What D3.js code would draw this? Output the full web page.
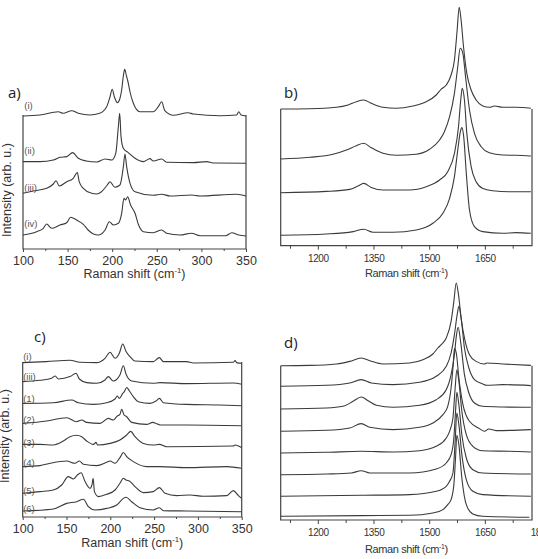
<!DOCTYPE html>
<html>
<head>
<meta charset="utf-8">
<script src="https://cdn.jsdelivr.net/npm/d3@7/dist/d3.min.js"></script>
<style>
  html, body { margin: 0; padding: 0; background: #fff; }
  svg { display: block; }
  .trace { fill: none; stroke: #3a3a3a; stroke-width: 1.1; stroke-linejoin: round; }
  .frame { fill: none; stroke: #444; stroke-width: 1.2; }
  .tick line { stroke: #444; }
</style>
</head>
<body>
<div id="canvas"></div>
<script>
// ---- data (Raman shift in cm-1, intensity in arb. u. above each trace's baseline) ----

// panel a (low wavenumber region)
var labelsA = ["(i)", "(ii)", "(iii)", "(iv)"];
var offsetsA = [133, 85.7, 53, 13];
var specA_i = [[100,0],[119,1],[139.6,4.3],[145,2.7],[154.6,5.3],[162,2.7],[175,1],[186,2.7],[193.8,9.3],[197.5,19],[200,26.7],[202.5,19],[205.8,13.3],[208.5,17],[210.6,26],[212.5,40],[214,46.7],[216,40],[217.5,35],[220,24],[223.7,12.7],[231,4.3],[246,4.3],[251.7,9.3],[255.5,14.3],[259,5.3],[268.5,0.7],[285,3.3],[291,2],[321,0.3],[339.5,1],[342,4.3],[344.4,1],[350,0]];
var specA_ii = [[100,1.7],[119,1.7],[134,3.3],[141.5,6],[149,6.7],[155.7,10.7],[162,5],[171,2.3],[182.6,1.3],[192,4.3],[199.4,3.3],[204,10],[206.9,36.7],[208.4,50],[209.9,26.7],[212.5,15],[218,10.7],[225.6,5],[235,1.7],[242.4,4.7],[246,2.3],[255.5,4.3],[261,1],[291,0.7],[305.9,1.7],[313,0.3],[350,0]];
var specA_iii = [[100,2.7],[111.6,5],[126.5,7.7],[134,12],[137,15.3],[140.7,10],[149,14.3],[156.4,17.7],[160.9,23.5],[163,14.3],[167.6,7.7],[177,2.7],[182.6,2],[188,4.3],[194.5,11],[197.5,14.3],[203,8.7],[208.7,11],[212.5,29.3],[214.3,42],[216.2,29.3],[220,12.7],[225.6,4.3],[246,0.7],[255.5,1.7],[264.8,0],[289,1],[298.4,0],[339.5,1.7],[350,0]];
var specA_iv = [[100,1],[115.3,4.3],[122.8,7.7],[126.5,12],[132,7.7],[141.5,11],[149,13.3],[153.4,18.7],[160,16],[167.6,11.7],[173,6],[178.9,2],[184.5,1],[192,6],[196.8,14.3],[201.3,11],[206.9,12.7],[210.6,22.7],[213.2,37.7],[215,36],[217.3,39.3],[220.6,31],[225.6,22.7],[229.3,11.7],[235,4.3],[246,3.3],[255.5,6],[261,2.7],[276,1],[289,2.7],[298.4,0.3],[327.2,0.3],[334,3.3],[342,1],[350,0]];

// panel b (D and G band region)
var offsetsB = [136.7, 86.7, 53, 10.4];
var specB_1 = [[1100,0],[1178,0.3],[1250,1.7],[1281.5,4],[1304,7.3],[1323.7,9],[1344,5.7],[1375.6,1.7],[1411,0.7],[1456,3],[1492,7.3],[1519,14],[1532,19.7],[1546,24],[1559,34],[1568,49],[1575.4,79],[1580.8,101.7],[1586,89],[1592.5,62.3],[1601.4,35.7],[1613,19],[1626.5,9],[1644.4,3],[1662.4,1.7],[1675.8,3],[1698,1.7],[1734,1.7],[1774,0.7]];
var specB_2 = [[1100,0],[1178,1.7],[1241,4.7],[1277,9],[1304,13.3],[1323.7,15.7],[1344,11.3],[1375.6,5.7],[1411,3.7],[1465,4.7],[1501,9.7],[1528,19],[1541,27.3],[1555,42.3],[1568,65.7],[1577,92.3],[1583.5,110.7],[1590.7,105.7],[1598,82.3],[1608.6,49],[1622,25.7],[1640,12.3],[1662,6.3],[1698,4],[1734,3.7],[1774,3]];
var specB_3 = [[1100,0],[1223,1.3],[1286,3.3],[1308,6.7],[1323.7,9.3],[1344,5.3],[1375.6,2.7],[1447,2.7],[1492,6],[1528,12.7],[1550,21],[1568,39.3],[1579,66],[1585,92.7],[1589,104.3],[1595,92.7],[1601.4,59.3],[1613,26],[1626.5,11],[1644.4,4.3],[1671,2],[1716,1],[1774,1]];
var specB_4 = [[1100,0],[1223,1.3],[1295,3.7],[1323.7,6],[1349,3],[1402.5,3],[1465,5.3],[1510,12],[1537,22],[1555,37],[1568,58.7],[1577,85.3],[1584,103.7],[1588,107.7],[1593,98.7],[1600,62],[1608.6,25.3],[1622,8.7],[1644.4,3.7],[1698,2],[1734,2.7],[1774,2]];

// panel c (low wavenumber region, more samples)
var labelsC = ["(i)", "(iii)", "(1)", "(2)", "(3)", "(4)", "(5)", "(6)"];
var offsetsC = [153.7, 132.7, 111.3, 91.3, 69.3, 48.7, 18.7, 5.3];
var specC_i = [[100,0.7],[127,1.7],[154,3],[165.4,1],[184.5,0.7],[194,5],[199.7,11],[205.4,5],[210.3,10],[214.2,19.3],[218,11.7],[222.5,6.7],[228,2.3],[249,1.7],[256,5.7],[260.6,1.7],[287,1.7],[294.8,0.3],[340.5,1],[342.4,2.7],[344.3,0.7],[350,0]];
var specC_iii = [[100,2.7],[119.8,4],[133,6],[137,8.3],[140.7,5.3],[154,7.7],[160.9,11],[164.7,5.3],[173,1.7],[184.5,1],[194,4.3],[197.7,7.7],[203.4,3.3],[211,9.3],[214.9,18.5],[218,10],[224.4,3.3],[249,1],[256.8,1.7],[287,0.7],[340.5,1.3],[350,0]];
var specC_1 = [[100,2.3],[135,3],[156,5.7],[163.5,3],[180.7,1.3],[195.9,3],[205.4,6.7],[208,9.7],[210.3,7.3],[214.2,12.3],[216,14],[218.7,18.2],[221.8,14.7],[226.3,9],[232,4],[245.3,2.3],[252.2,4.7],[256,7.3],[260.6,3],[287,1.3],[325,0.7],[350,0]];
var specC_2 = [[100,2.3],[127.4,4.7],[150.2,8],[161.6,4],[167.4,5.7],[173,3.3],[188.3,2.3],[197.7,7.3],[203.4,5.7],[208,9.7],[211,11.3],[213,16.5],[215.7,10.7],[218.7,9],[224.4,3.3],[241.5,1.3],[248.4,3.3],[252.2,2.3],[256.8,0.7],[287,0.7],[350,0]];
var specC_3 = [[100,3.3],[119.8,3.3],[135,2.7],[146.4,6.7],[154,11],[161.6,12.5],[167.4,11],[173,6.7],[180.7,3.3],[183.7,5.3],[185.6,2.7],[199.7,4.3],[211,7.7],[218.7,12.7],[223.3,16.3],[228.2,11],[237.7,4.3],[249,2.7],[256,3.3],[264.3,1],[340.5,1.7],[342.4,2.7],[350,0]];
var specC_4 = [[100,1.7],[119.8,2.7],[131.2,5],[150.2,7.3],[159.7,5],[164.7,7.3],[169.3,4],[184.5,2.7],[195.9,6],[199.7,7.3],[205.4,5],[211,10.7],[214.9,15.8],[218.7,11.7],[226.3,6.7],[241.5,1.7],[256.8,1.7],[287,0.7],[332.9,1.7],[350,0]];
var specC_5 = [[100,5],[119.8,6.7],[135,8.3],[144.5,13.3],[152,21.7],[157.8,19.3],[162.4,23.3],[166.6,25.5],[171.2,16.7],[176.9,10],[179.2,14],[180.4,20],[181.9,6.7],[186.5,1.7],[195.9,4],[205.4,8.3],[211,15],[214.9,20],[218,18.3],[221.8,17.3],[228.2,11.7],[237.7,5.7],[249,6.7],[256,10.7],[262.5,5],[275.8,2.7],[291,3.3],[306.2,2],[332.9,2.7],[340.5,7.7],[346.2,2.7],[350,0]];
var specC_6 = [[100,0.7],[135,2.7],[150.2,8.3],[161.6,10],[169.3,12.5],[175,5],[182.6,1.7],[195.9,3.3],[207.3,6.7],[214.9,13.3],[218,14.5],[224.4,10],[233.9,4],[249,1.7],[256,4],[260.6,1],[287,0.7],[350,0]];

// panel d (D and G band region, more samples)
var offsetsD = [154.3, 133.7, 111, 88.7, 67, 45.3, 23.7, 2.7];
var specD_1 = [[1100,0],[1178.5,0.3],[1250,1.7],[1286,4.3],[1317,7.7],[1340,5],[1375.6,1.7],[1447,2.7],[1483,6],[1510,11.7],[1523.5,17.7],[1532.4,21],[1546,27.7],[1559,44.3],[1566.5,64.3],[1572.8,82.7],[1579,71],[1586,47.7],[1597,24.3],[1608.6,11],[1626.5,4.3],[1649,1.7],[1655,2.7],[1698,1.7],[1774,0.3]];
var specD_2 = [[1100,0],[1223,1],[1286,3.3],[1317,6.7],[1344,3.3],[1402.5,1.7],[1474,4],[1519,10],[1546,20],[1559,33.3],[1568,51.7],[1575.4,71.7],[1580,80],[1586,68.3],[1595,38.3],[1607,18.3],[1622,6.7],[1644.4,2.3],[1655,1],[1698,1.7],[1774,0.7]];
var specD_3 = [[1100,0],[1223,1],[1268,2.7],[1295,7.7],[1317,12],[1335.6,8.3],[1358,3.7],[1402.5,1.7],[1474,3.7],[1519,9.3],[1546,19.3],[1559,34.3],[1568,54.3],[1573.7,74.3],[1578,81.7],[1584.6,67.7],[1595,34.3],[1607,16],[1622,6],[1644,2.7],[1698,2],[1774,1.7]];
var specD_4 = [[1100,0],[1223,1],[1286,3.3],[1317,7.7],[1340,4],[1402.5,1.7],[1474,4],[1510,8.3],[1537,16.7],[1550,25],[1559,43.3],[1564.7,66.7],[1568,82.7],[1573,78.3],[1580,53.3],[1591,26.7],[1608.6,10],[1635.5,2.7],[1649,0],[1660.6,2.3],[1680,0.7],[1774,1.7]];
var specD_5 = [[1100,0],[1223,0.7],[1317,1.7],[1402.5,1],[1474,2.3],[1519,6.7],[1546,15],[1555,21.7],[1564,35],[1570,65],[1574.5,83.3],[1580,71.7],[1588,41.7],[1600,18.3],[1617.6,6.7],[1644,2.3],[1716,1.7],[1774,1]];
var specD_6 = [[1100,0],[1223,0.7],[1290,1.7],[1317,4],[1340,1.7],[1447,1.7],[1519,5.7],[1546,11.7],[1559,20],[1566.5,36.7],[1571,63.3],[1574.5,82.3],[1580,70],[1588,40],[1600,16.7],[1617.6,5],[1644,1.7],[1774,0.7]];
var specD_7 = [[1100,0],[1317,1],[1447,1.7],[1519,5],[1546,10],[1555,15],[1564,23.3],[1570,55],[1574.5,83.3],[1580,71.7],[1588,41.7],[1600,16.7],[1617.6,5],[1644,1.7],[1774,0]];
var specD_8 = [[1100,1],[1317,1.7],[1447,2],[1510,4.3],[1537,7.7],[1550,12.7],[1559,17.7],[1566.5,32.7],[1571,59.3],[1574.5,82],[1580,72.7],[1588,39.3],[1600,12.7],[1617.6,3.3],[1644,1],[1770,0]];

var ticksLow = [100, 150, 200, 250, 300, 350];
var minorLow = [125, 175, 225, 275, 325];
var ticksB = [1200, 1350, 1500, 1650];
var ticksD = [1200, 1350, 1500, 1650, 1800];
var minorHigh = [1125, 1275, 1425, 1575, 1725];

// ---- drawing ----
var svg = d3.select('#canvas').append('svg')
    .attr('width', 538)
    .attr('height', 559);

var wideFont = "'Liberation Sans', Arial, sans-serif";

function drawPanel(p) {
    var x = d3.scaleLinear().domain(p.domain).range([p.left, p.right]);
    // intensity scale, one arb. unit per pixel, stacked from the bottom axis
    var y = d3.scaleLinear().domain([0, 200]).range([p.bottom, p.bottom - 200]);
    var g = svg.append('g');

    // open-topped frame: left, bottom and right sides
    g.append('path')
        .attr('class', 'frame')
        .attr('d', 'M' + p.left + ',' + y(p.top) + 'V' + p.bottom + 'H' + p.right + 'V' + y(p.top));

    var axis = d3.axisBottom(x).tickValues(p.ticks).tickSize(p.tickLen).tickPadding(p.pad)
        .tickFormat(d3.format('d'));
    var ax = g.append('g').attr('transform', 'translate(0,' + p.bottom + ')').call(axis);
    ax.select('.domain').remove();
    ax.selectAll('text')
        .attr('fill', '#333')
        .style('font-family', wideFont)
        .style('letter-spacing', p.spacing + 'px')
        .style('font-size', p.tickFont + 'px');

    var minor = d3.axisBottom(x).tickValues(p.minor).tickSize(p.tickLen - 1).tickFormat('');
    var mx = g.append('g').attr('transform', 'translate(0,' + p.bottom + ')').call(minor);
    mx.select('.domain').remove();

    var line = d3.line()
        .x(function (d) { return x(d[0]); })
        .y(function (d) { return d[1]; })
        .curve(d3.curveMonotoneX);

    p.spectra.forEach(function (s, i) {
        var pts = s.map(function (d) { return [d[0], y(d[1] + p.offsets[i])]; });
        g.append('path').attr('class', 'trace').attr('d', line(pts));
    });

    if (p.labels) {
        p.labels.forEach(function (t, i) {
            g.append('text')
                .attr('x', x(p.labelAt))
                .attr('y', y(p.offsets[i] + p.labelRaise[i]))
                .attr('dominant-baseline', 'central')
                .attr('fill', '#555')
                .style('font-family', wideFont)
                .style('font-size', '9.5px')
                .text(t);
        });
    }

    // x axis title
    var title = g.append('text')
        .attr('x', (p.left + p.right) / 2)
        .attr('y', p.titleY)
        .attr('text-anchor', 'middle')
        .attr('fill', '#333')
        .style('font-family', wideFont)
        .style('letter-spacing', p.spacing + 'px')
        .style('font-size', p.titleFont + 'px');
    title.append('tspan').text('Raman shift (cm');
    title.append('tspan').attr('dy', -p.titleFont * 0.4).style('font-size', (p.titleFont * 0.62) + 'px').text('-1');
    title.append('tspan').attr('dy', p.titleFont * 0.4).text(')');

    if (p.yTitle) {
        svg.append('text')
            .attr('transform', 'translate(' + p.yTitle[0] + ',' + p.yTitle[1] + ') rotate(-90)')
            .attr('text-anchor', 'middle')
            .attr('dominant-baseline', 'central')
            .attr('fill', '#333')
            .style('font-family', wideFont)
            .style('font-size', '12.5px')
            .text('Intensity (arb. u.)');
    }

    svg.append('text')
        .attr('x', p.letter[0])
        .attr('y', p.letter[1])
        .attr('fill', '#222')
        .style('font-family', "'Open Sans', 'Liberation Sans', sans-serif")
        .style('font-size', '15px')
        .text(p.letter[2]);
}

drawPanel({
    domain: [100, 350], left: 23, right: 246, bottom: 249, top: 134,
    ticks: ticksLow, minor: minorLow, tickLen: 3, pad: 4, tickFont: 12.5, spacing: 0,
    spectra: [specA_i, specA_ii, specA_iii, specA_iv], offsets: offsetsA,
    labels: labelsA, labelAt: 101.5, labelRaise: [11, 13.3, 8.5, 13],
    titleY: 278, titleFont: 12.5, yTitle: [7, 190], letter: [8, 98, 'a)']
});

drawPanel({
    domain: [1100, 1777], left: 280.7, right: 532, bottom: 245.7, top: 136.7,
    ticks: ticksB, minor: minorHigh, tickLen: 4, pad: 5, tickFont: 10, spacing: -0.4,
    spectra: [specB_1, specB_2, specB_3, specB_4], offsets: offsetsB,
    titleY: 277, titleFont: 11, letter: [284, 98, 'b)']
});

drawPanel({
    domain: [100, 350], left: 22.7, right: 241.7, bottom: 517, top: 155,
    ticks: ticksLow, minor: minorLow, tickLen: 3, pad: 4, tickFont: 12.5, spacing: 0,
    spectra: [specC_i, specC_iii, specC_1, specC_2, specC_3, specC_4, specC_5, specC_6], offsets: offsetsC,
    labels: labelsC, labelAt: 100.5, labelRaise: [6.6, 7.6, 7.4, 6.4, 5, 5.6, 8.3, 3.4],
    titleY: 547, titleFont: 12.5, yTitle: [5, 436], letter: [34, 342, 'c)']
});

drawPanel({
    domain: [1100, 1777], left: 280.7, right: 532, bottom: 520, top: 154.3,
    ticks: ticksD, minor: minorHigh, tickLen: 4, pad: 5, tickFont: 10, spacing: -0.4,
    spectra: [specD_1, specD_2, specD_3, specD_4, specD_5, specD_6, specD_7, specD_8], offsets: offsetsD,
    titleY: 553, titleFont: 11, letter: [284, 348, 'd)']
});
</script>
</body>
</html>
